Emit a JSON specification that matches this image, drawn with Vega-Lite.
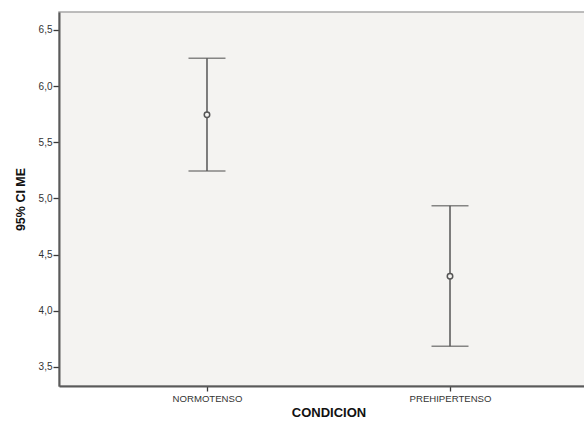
{
  "$schema": "https://vega.github.io/schema/vega-lite/v6.json",
  "autosize": {"type": "none"},
  "width": 539,
  "height": 374,
  "padding": {"left": 59, "top": 12, "right": 0, "bottom": 36},
  "background": "#ffffff",
  "config": {
    "font": "Liberation Sans",
    "view": {"fill": "#f4f3f1", "stroke": "#a8a8a8", "strokeWidth": 1.5},
    "axis": {"grid": false, "domainColor": "#5a5a5a", "domainWidth": 2, "tickColor": "#3a3a3a", "tickWidth": 1.3, "labelColor": "#333333", "labelFont": "Liberation Sans", "titleFont": "Liberation Sans", "titleColor": "#111111", "titleFontWeight": "bold"}
  },
  "data": {"values": [
    {"condicion": "NORMOTENSO", "media": 5.746, "inferior": 5.244, "superior": 6.248},
    {"condicion": "PREHIPERTENSO", "media": 4.307, "inferior": 3.683, "superior": 4.935}
  ]},
  "encoding": {
    "x": {"field": "condicion", "type": "nominal", "sort": null,
      "scale": {"type": "point", "padding": 0.609},
      "axis": {"title": "CONDICION", "labelAngle": 0, "labelFontSize": 9.6, "tickSize": 5, "labelPadding": 2, "titleFontSize": 13, "titlePadding": 4}}
  },
  "layer": [
    {"mark": {"type": "rule", "color": "#555555", "strokeWidth": 1.5},
     "encoding": {
       "y": {"field": "inferior", "type": "quantitative",
         "scale": {"domain": [3.33, 6.66], "nice": false, "zero": false},
         "axis": {"title": "95% CI ME", "values": [3.5, 4.0, 4.5, 5.0, 5.5, 6.0, 6.5], "labelExpr": "replace(format(datum.value, '.1f'), '.', ',')", "labelFontSize": 10, "tickSize": 6, "labelPadding": 1, "titleFontSize": 12.5, "titlePadding": 11}},
       "y2": {"field": "superior"}
     }},
    {"mark": {"type": "tick", "color": "#555555", "size": 37, "thickness": 1.5, "orient": "horizontal"},
     "encoding": {"y": {"field": "inferior", "type": "quantitative"}}},
    {"mark": {"type": "tick", "color": "#555555", "size": 37, "thickness": 1.5, "orient": "horizontal"},
     "encoding": {"y": {"field": "superior", "type": "quantitative"}}},
    {"mark": {"type": "point", "shape": "circle", "filled": true, "fill": "#f4f3f1", "stroke": "#555555", "strokeWidth": 1.5, "size": 30, "opacity": 1},
     "encoding": {"y": {"field": "media", "type": "quantitative"}}}
  ]
}
